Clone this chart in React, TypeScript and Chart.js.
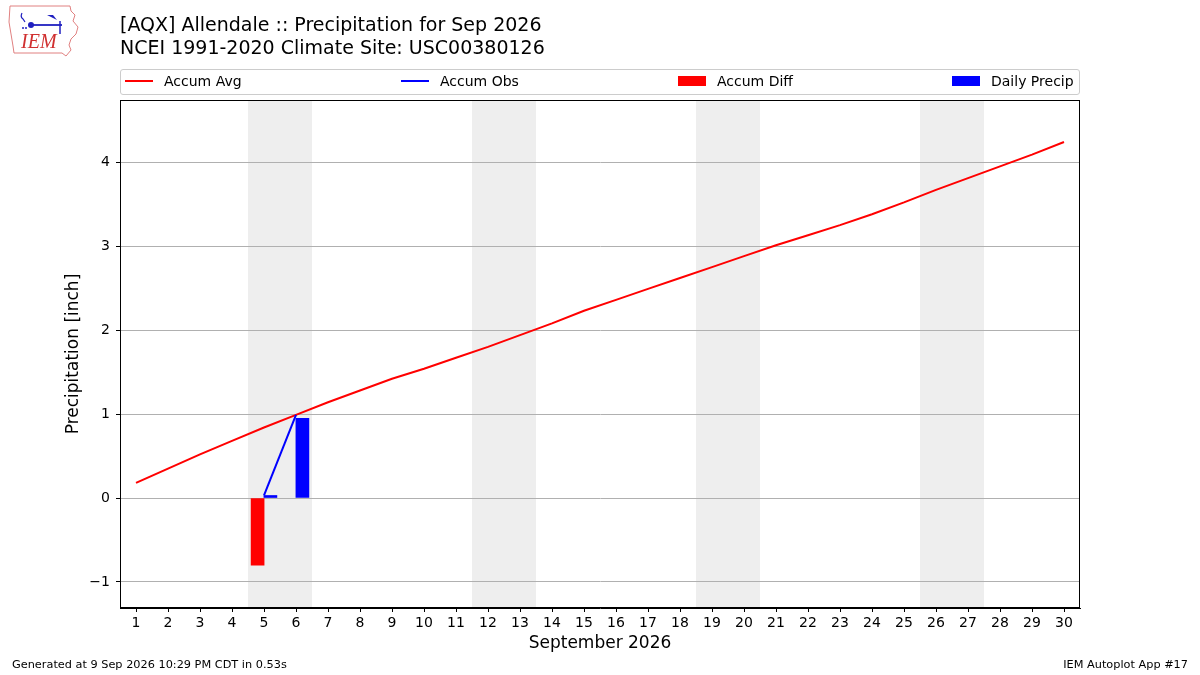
import React, { useEffect, useRef } from "react";
import { Chart, ChartConfiguration, registerables } from "chart.js";

Chart.register(...registerables);

const days = [1, 2, 3, 4, 5, 6, 7, 8, 9, 10, 11, 12, 13, 14, 15, 16, 17, 18, 19, 20, 21, 22, 23, 24, 25, 26, 27, 28, 29, 30];
const accumAvg = [
  0.18, 0.35, 0.52, 0.68, 0.84, 0.99, 1.14, 1.28, 1.42, 1.54, 1.67, 1.8, 1.94, 2.08, 2.23,
  2.36, 2.49, 2.62, 2.75, 2.88, 3.01, 3.13, 3.25, 3.38, 3.52, 3.67, 3.81, 3.95, 4.09, 4.24,
];
const obsDays = [5, 6];
const accumObs = [0.03, 0.99];
const dailyPrecip = [0.03, 0.95];
const accumDiff = [-0.8, null];
const weekends = [
  [4.5, 6.5],
  [11.5, 13.5],
  [18.5, 20.5],
  [25.5, 27.5],
];
const yTicks = [-1, 0, 1, 2, 3, 4];

const FONT = "'DejaVu Sans', sans-serif";

const shadePlugin = {
  id: "weekendShade",
  beforeDraw(chart: Chart) {
    const { ctx, chartArea } = chart;
    const x = chart.scales.x;
    ctx.save();
    ctx.fillStyle = "#eeeeee";
    weekends.forEach(([a, b]) => {
      const x0 = x.getPixelForValue(a);
      const x1 = x.getPixelForValue(b);
      ctx.fillRect(x0, chartArea.top, x1 - x0, chartArea.bottom - chartArea.top);
    });
    ctx.restore();
  },
  afterDraw(chart: Chart) {
    const { ctx, chartArea } = chart;
    ctx.save();
    ctx.strokeStyle = "#000";
    ctx.lineWidth = 1;
    ctx.strokeRect(
      chartArea.left + 0.5,
      chartArea.top + 0.5,
      chartArea.right - chartArea.left - 1,
      chartArea.bottom - chartArea.top - 1,
    );
    ctx.restore();
  },
};

const Logo: React.FC = () => (
  <svg width="82" height="60" style={{ position: "absolute", left: 0, top: 0 }}>
    <path
      d="M10,6 L70,6 L71,11 L75,15 L73,21 L78,27 L76,34 L71,39 L69,45 L71,50 L66,56 L62,53 L14,53 L13,46 L11,34 L9,22 Z"
      fill="none"
      stroke="#e08080"
      strokeWidth="1"
    />
    <path d="M22,13 Q20,17 23,19 L25,22" fill="none" stroke="#2020c0" strokeWidth="1.2" />
    <line x1="31" y1="25" x2="62" y2="25" stroke="#2020c0" strokeWidth="1.8" />
    <circle cx="31" cy="25" r="3" fill="#2020c0" />
    <path d="M47,15 L57,20 L53,15 Z" fill="#2020c0" />
    <line x1="60" y1="21" x2="60" y2="34" stroke="#2020c0" strokeWidth="1.5" />
    <circle cx="23" cy="28" r="1" fill="#2020c0" />
    <circle cx="26" cy="28" r="1" fill="#2020c0" />
    <text x="21" y="48" fill="#d03030" fontFamily="'Liberation Serif', serif" fontStyle="italic" fontSize="20">
      IEM
    </text>
  </svg>
);

const App: React.FC = () => {
  const canvasRef = useRef<HTMLCanvasElement>(null);
  const chartRef = useRef<Chart | null>(null);

  useEffect(() => {
    document.body.style.margin = "0";
    if (!canvasRef.current) return;
    if (chartRef.current) chartRef.current.destroy();

    const config = {
      type: "line",
      data: {
        datasets: [
          {
            label: "Accum Obs",
            data: obsDays.map((d, i) => ({ x: d, y: accumObs[i] })),
            borderColor: "#0000ff",
            borderWidth: 2,
            pointRadius: 0,
            order: 1,
          },
          {
            label: "Accum Avg",
            data: days.map((d, i) => ({ x: d, y: accumAvg[i] })),
            borderColor: "#ff0000",
            borderWidth: 2,
            pointRadius: 0,
            order: 2,
          },
          {
            type: "bar",
            label: "Accum Diff",
            data: obsDays.map((d, i) => ({ x: d - 0.2, y: accumDiff[i] })),
            backgroundColor: "#ff0000",
            barThickness: 13,
            grouped: false,
            order: 3,
          },
          {
            type: "bar",
            label: "Daily Precip",
            data: obsDays.map((d, i) => ({ x: d + 0.2, y: dailyPrecip[i] })),
            backgroundColor: "#0000ff",
            barThickness: 13,
            grouped: false,
            order: 3,
          },
        ],
      },
      options: {
        animation: false,
        responsive: false,
        devicePixelRatio: 1,
        layout: { padding: { left: 0, top: 100, right: 120, bottom: 0 } },
        plugins: {
          legend: { display: false },
          tooltip: { enabled: false },
        },
        scales: {
          x: {
            type: "linear",
            min: 0.5,
            max: 30.5,
            offset: false,
            afterBuildTicks: (scale: any) => {
              scale.ticks = days.map((v) => ({ value: v }));
            },
            afterFit: (scale: any) => {
              scale.height = 67;
            },
            grid: {
              offset: false,
              drawOnChartArea: false,
              drawTicks: true,
              tickLength: 4,
              color: "#000",
            },
            border: { display: true, color: "#000" },
            ticks: {
              color: "#000",
              font: { family: FONT, size: 14 },
              padding: 3,
              maxRotation: 0,
              autoSkip: false,
              callback: (v: any) => String(v),
            },
            title: {
              display: true,
              text: "September 2026",
              color: "#000",
              font: { family: FONT, size: 17 },
              padding: { top: 0, bottom: 21 },
            },
          },
          y: {
            type: "linear",
            min: -1.31,
            max: 4.74,
            afterBuildTicks: (scale: any) => {
              scale.ticks = yTicks.map((v) => ({ value: v }));
            },
            afterFit: (scale: any) => {
              scale.width = 120;
            },
            grid: {
              color: "#b0b0b0",
              tickColor: "#000",
              tickLength: 4,
              lineWidth: 1,
            },
            border: { display: true, color: "#000" },
            ticks: {
              color: "#000",
              font: { family: FONT, size: 14 },
              padding: 6,
              callback: (v: any) => (v < 0 ? "\u2212" + Math.abs(v) : String(v)),
            },
            title: {
              display: true,
              text: "Precipitation [inch]",
              color: "#000",
              font: { family: FONT, size: 17 },
              padding: { top: 63, bottom: 0 },
            },
          },
        },
      },
      plugins: [shadePlugin],
    };

    try {
      chartRef.current = new Chart(canvasRef.current, config as unknown as ChartConfiguration);
    } catch (error) {
      console.error("Error creating chart:", error);
    }

    return () => {
      if (chartRef.current) chartRef.current.destroy();
    };
  }, []);

  const legendItems = [
    { label: "Accum Avg", color: "#ff0000", kind: "line", x: 125 },
    { label: "Accum Obs", color: "#0000ff", kind: "line", x: 401 },
    { label: "Accum Diff", color: "#ff0000", kind: "patch", x: 678 },
    { label: "Daily Precip", color: "#0000ff", kind: "patch", x: 952 },
  ];

  return (
    <div style={{ position: "relative", width: 1200, height: 675, background: "#fff", fontFamily: FONT, color: "#000" }}>
      <canvas ref={canvasRef} width={1200} height={675} style={{ position: "absolute", left: 0, top: 0 }} />
      <Logo />
      <div style={{ position: "absolute", left: 120, top: 13, fontSize: 19, lineHeight: "23px", whiteSpace: "nowrap" }}>
        <div>[AQX] Allendale :: Precipitation for Sep 2026</div>
        <div>NCEI 1991-2020 Climate Site: USC00380126</div>
      </div>
      <div
        style={{
          position: "absolute",
          left: 120,
          top: 69,
          width: 960,
          height: 26,
          boxSizing: "border-box",
          border: "1px solid #cccccc",
          borderRadius: 3,
          background: "#fff",
        }}
      />
      {legendItems.map((it) => (
        <div key={it.label} style={{ position: "absolute", left: it.x, top: 68, height: 26, display: "flex", alignItems: "center" }}>
          {it.kind === "line" ? (
            <div style={{ width: 28, height: 2, background: it.color }} />
          ) : (
            <div style={{ width: 28, height: 10, background: it.color }} />
          )}
          <span style={{ marginLeft: 11, fontSize: 14 }}>{it.label}</span>
        </div>
      ))}
      <div style={{ position: "absolute", left: 12, top: 658, fontSize: 11.3 }}>
        Generated at 9 Sep 2026 10:29 PM CDT in 0.53s
      </div>
      <div style={{ position: "absolute", right: 12, top: 658, fontSize: 11.3 }}>IEM Autoplot App #17</div>
    </div>
  );
};

export default App;
